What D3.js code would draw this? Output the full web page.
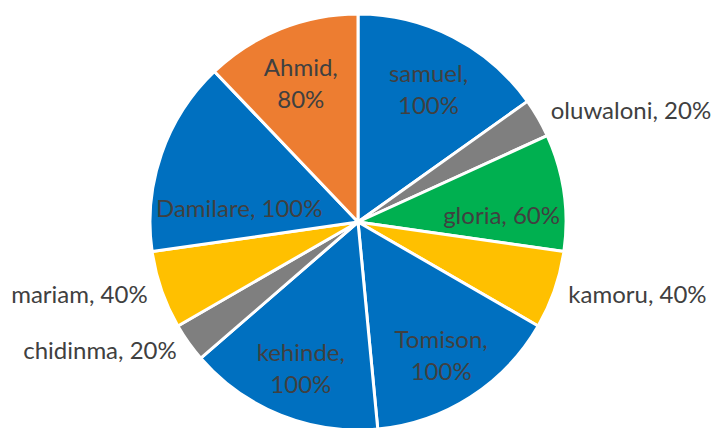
<!DOCTYPE html>
<html>
<head>
<meta charset="utf-8">
<script src="https://cdn.jsdelivr.net/npm/d3@7"></script>
<style>
  body { margin: 0; background: #fff; }
  svg { display: block; }
  text { font-family: Lato, "Open Sans", sans-serif; fill: #404040; }
</style>
</head>
<body>
<script>
// pie of student scores, drawn clockwise from 12 o'clock
var names = ['samuel', 'oluwaloni', 'gloria', 'kamoru', 'Tomison', 'kehinde', 'chidinma', 'mariam', 'Damilare', 'Ahmid'];
var scores = [100, 20, 60, 40, 100, 100, 20, 40, 100, 80];
var sliceColors = ['#0070C0', '#7F7F7F', '#00B050', '#FFC000', '#0070C0', '#0070C0', '#7F7F7F', '#FFC000', '#0070C0', '#ED7D31'];

var width = 715, height = 428;
var cx = 358, cy = 222, radius = 208;

var svg = d3.select('body').append('svg')
    .attr('width', width)
    .attr('height', height);

var g = svg.append('g').attr('transform', `translate(${cx},${cy})`);

var rows = names.map(function(n, i){ return {name: n, value: scores[i], color: sliceColors[i]}; });

var pie = d3.pie().value(function(d){ return d.value; }).sort(null);
var arc = d3.arc().innerRadius(0).outerRadius(radius);
var slices = pie(rows);

g.selectAll('path.slice')
    .data(slices)
    .enter().append('path')
    .attr('class', 'slice')
    .attr('d', arc)
    .attr('fill', function(d){ return d.data.color; })
    .attr('stroke', '#fff')
    .attr('stroke-width', 3)
    .attr('stroke-linejoin', 'round');

var fontSize = 24;
var lineGap = 32;

function mid(d){ return (d.startAngle + d.endAngle) / 2; }

// small slices get their label outside, the rest inside
slices.forEach(function(d){
    var a = mid(d);
    var label = d.data.name + ', ' + d.data.value + '%';
    if (d.data.value < 50) {
        var r = radius * 1.07;
        var x = Math.sin(a) * r, y = -Math.cos(a) * r;
        var right = Math.sin(a) > 0;
        g.append('text')
            .attr('x', x)
            .attr('y', y)
            .attr('dy', '0.35em')
            .attr('text-anchor', right ? 'start' : 'end')
            .style('font-size', fontSize + 'px')
            .text(label);
    } else if (Math.abs(Math.sin(a)) > 0.9) {
        // near-horizontal slices keep a one line label, pushed to the rim
        var t1 = g.append('text')
            .attr('dy', '0.35em')
            .attr('text-anchor', 'middle')
            .style('font-size', fontSize + 'px')
            .text(label);
        var w = t1.node().getComputedTextLength();
        var side = Math.sin(a) > 0 ? 1 : -1;
        var y1 = -Math.cos(a) * radius * 0.68 * 0.3;
        t1.attr('x', side * (radius - 6 - w / 2)).attr('y', y1);
    } else {
        var r2 = radius * 0.74;
        var x2 = Math.sin(a) * r2, y2 = -Math.cos(a) * r2 + 4;
        var t = g.append('text')
            .attr('text-anchor', 'middle')
            .style('font-size', fontSize + 'px');
        t.append('tspan').attr('x', x2).attr('y', y2 - lineGap / 2).attr('dy', '0.35em').text(d.data.name + ',');
        t.append('tspan').attr('x', x2).attr('y', y2 + lineGap / 2).attr('dy', '0.35em').text(d.data.value + '%');
    }
});
</script>
</body>
</html>
